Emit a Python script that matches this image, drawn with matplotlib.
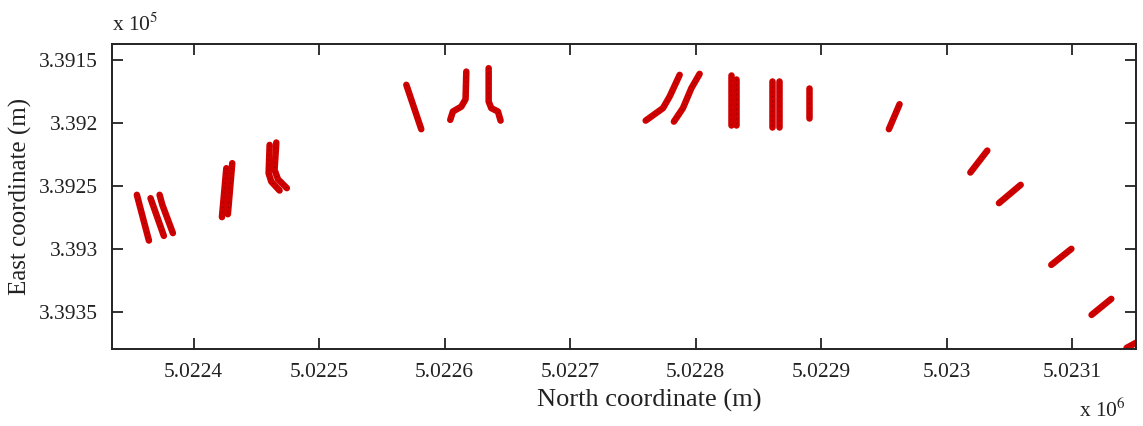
import matplotlib
matplotlib.use("Agg")
import matplotlib.pyplot as plt
from matplotlib.ticker import FixedLocator, FuncFormatter

# ------------------- Track data -------------------
# each entry is one survey pass: north / east coordinates in metres
north_m = [
    [5022354.8, 5022364.4],
    [5022365.7, 5022376.3],
    [5022372.9, 5022375.1, 5022383.5],
    [5022426.1, 5022422.6],
    [5022430.8, 5022427.3],
    [5022460.6, 5022459.8, 5022461.9, 5022468.5],
    [5022465.9, 5022464.5, 5022467.2, 5022474.3],
    [5022569.5, 5022581.4],
    [5022604.5, 5022606.6, 5022613.3, 5022616.7, 5022617.3],
    [5022635.1, 5022635.1, 5022637.2, 5022642.5, 5022644.6],
    [5022760.2, 5022774.0, 5022779.3, 5022787.3],
    [5022782.7, 5022789.9, 5022796.6, 5022803.2],
    [5022827.9, 5022827.9],
    [5022832.4, 5022832.4],
    [5022861.1, 5022861.1],
    [5022866.4, 5022866.4],
    [5022890.3, 5022890.3],
    [5022954.0, 5022962.5],
    [5023018.9, 5023032.4],
    [5023041.7, 5023059.0],
    [5023083.4, 5023099.4],
    [5023115.5, 5023131.2],
    [5023143.4, 5023153.8],
]
east_m = [
    [339257.1, 339293.4],
    [339259.8, 339289.7],
    [339257.1, 339265.1, 339287.5],
    [339236.0, 339274.8],
    [339232.0, 339272.5],
    [339217.5, 339240.0, 339246.6, 339253.7],
    [339215.6, 339237.3, 339244.7, 339251.8],
    [339169.8, 339205.0],
    [339197.6, 339191.0, 339187.1, 339181.2, 339159.3],
    [339156.6, 339183.1, 339188.3, 339191.0, 339198.2],
    [339198.2, 339188.3, 339179.1, 339161.9],
    [339199.0, 339188.3, 339172.5, 339161.1],
    [339161.9, 339201.6],
    [339165.3, 339201.6],
    [339166.4, 339202.9],
    [339166.4, 339202.9],
    [339172.5, 339196.3],
    [339205.0, 339185.2],
    [339239.4, 339222.0],
    [339263.7, 339249.2],
    [339312.7, 339300.0],
    [339352.4, 339339.7],
    [339378.6, 339373.0],
]

x_ticks = [5022400, 5022500, 5022600, 5022700, 5022800, 5022900, 5023000, 5023100]
y_ticks = [339150, 339200, 339250, 339300, 339350]

# ------------------- Style -------------------
plt.rcParams['font.family'] = ['Liberation Serif', 'DejaVu Serif']
plt.rcParams['mathtext.fontset'] = 'stix'

fig = plt.figure(figsize=(11.43, 4.26), dpi=100)
ax = fig.add_axes([0.098, 0.181, 0.896, 0.716])

for xs, ys in zip(north_m, east_m):
    ax.plot(xs, ys, color='#cf0000', lw=4.7, solid_capstyle='round',
            solid_joinstyle='round')
    ax.plot(xs, ys, color='#5a0000', lw=0.7, ls=(0, (1, 4)), alpha=0.7)

ax.set_xlim(5022335, 5023151)
ax.set_ylim(339379.4, 339137.3)

ax.xaxis.set_major_locator(FixedLocator(x_ticks))
ax.yaxis.set_major_locator(FixedLocator(y_ticks))
ax.xaxis.set_major_formatter(FuncFormatter(lambda v, p: '%g' % round(v / 1e6, 4)))
ax.yaxis.set_major_formatter(FuncFormatter(lambda v, p: '%g' % round(v / 1e5, 4)))

ax.tick_params(direction='in', length=8, width=1.3, top=True, right=True,
               labelsize=15.5, colors='#222222', pad=10)
for s in ax.spines.values():
    s.set_linewidth(1.4)
    s.set_color('#222222')

ax.set_xlabel('North coordinate (m)', fontsize=19, color='#222222')
ax.xaxis.set_label_coords(0.525, -0.13)
ax.set_ylabel('East coordinate (m)', fontsize=18, color='#222222')
ax.yaxis.set_label_coords(-0.078, 0.5)

ax.text(0.0, 1.025, r'x 10$^{5}$', transform=ax.transAxes, fontsize=15.5,
        color='#222222', ha='left', va='bottom')
ax.text(0.99, -0.165, r'x 10$^{6}$', transform=ax.transAxes, fontsize=15.5,
        color='#222222', ha='right', va='top')

fig.savefig('out.png', dpi=100)
